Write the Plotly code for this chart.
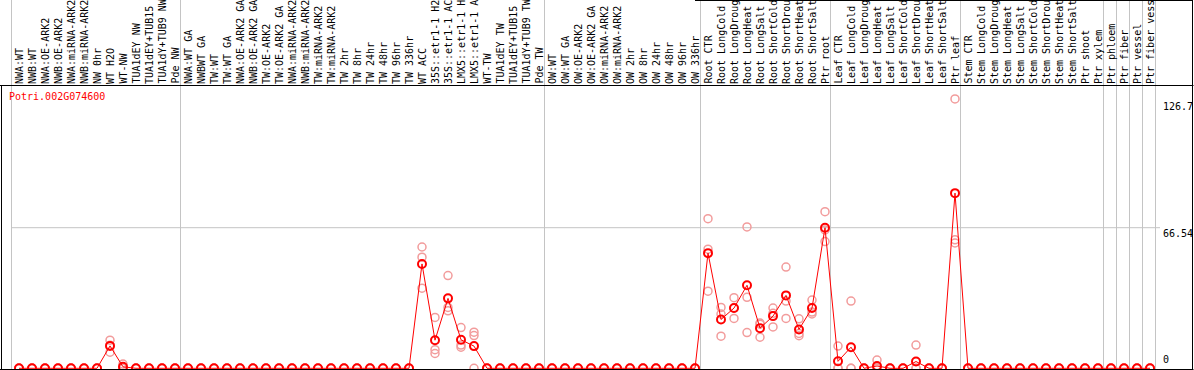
import plotly.graph_objects as go

# ---------------- data ----------------
gene_name = "Potri.002G074600"

group_labels = [
    ["NWA:WT", "NWB:WT", "NWA:OE-ARK2", "NWB:OE-ARK2", "NWA:miRNA-ARK2", "NWB:miRNA-ARK2",
     "NW 0hr", "WT H2O", "WT-NW", "TUA1dEY NW", "TUA1dEY+TUB15 NW", "TUA1dY+TUB9 NW", "Pde NW"],
    ["NWA:WT GA", "NWBWT GA", "TW:WT", "TW:WT GA", "NWA:OE-ARK2 GA", "NWB:OE-ARK2 GA",
     "TW:OE-ARK2", "TW:OE-ARK2 GA", "NWA:miRNA-ARK2 GA", "NWB:miRNA-ARK2 GA", "TW:miRNA-ARK2",
     "TW:miRNA-ARK2 GA", "TW 2hr", "TW 8hr", "TW 24hr", "TW 48hr", "TW 96hr", "TW 336hr",
     "WT ACC", "35S::etr1-1 H2O", "35S::etr1-1 ACC", "LMX5::etr1-1 H2O", "LMX5::etr1-1 ACC",
     "WT-TW", "TUA1dEY TW", "TUA1dEY+TUB15 TW", "TUA1dY+TUB9 TW", "Pde TW"],
    ["OW:WT", "OW:WT GA", "OW:OE-ARK2", "OW:OE-ARK2 GA", "OW:miRNA-ARK2", "OW:miRNA-ARK2 GA",
     "OW 2hr", "OW 8hr", "OW 24hr", "OW 48hr", "OW 96hr", "OW 336hr"],
    ["Root CTR", "Root LongCold", "Root LongDrought", "Root LongHeat", "Root LongSalt",
     "Root ShortCold", "Root ShortDrought", "Root ShortHeat", "Root ShortSalt", "Ptr root"],
    ["Leaf CTR", "Leaf LongCold", "Leaf LongDrought", "Leaf LongHeat", "Leaf LongSalt",
     "Leaf ShortCold", "Leaf ShortDrought", "Leaf ShortHeat", "Leaf ShortSalt", "Ptr leaf"],
    ["Stem CTR", "Stem LongCold", "Stem LongDrought", "Stem LongHeat", "Stem LongSalt",
     "Stem ShortCold", "Stem ShortDrought", "Stem ShortHeat", "Stem ShortSalt", "Ptr shoot", "Ptr xylem"],
    ["Ptr phloem"],
    ["Ptr fiber"],
    ["Ptr vessel"],
    ["Ptr fiber vessel"],
]

mean_vals = (
    [0, 0, 0, 0, 0, 0, 0, 10.6, 0.7, 0, 0, 0, 0]
    + [0] * 18 + [49.4, 13.3, 33.1, 13.5, 10.5, 0, 0, 0, 0, 0]
    + [0] * 12
    + [54.5, 23.1, 28.5, 39.3, 19.0, 24.7, 34.5, 18.4, 28.5, 66.54]
    + [3.3, 10.0, 0, 1.1, 0, 0, 3.2, 0, 0, 82.9]
    + [0] * 11
    + [0, 0, 0, 0]
)
rep_a = (
    [0, 0, 0, 0, 0, 0, 0, 13.3, 2.0, 0, 0, 0, 0]
    + [0] * 18 + [57.4, 24.1, 43.9, 19.3, 17.1, 0, 0, 0, 0, 0]
    + [0] * 12
    + [70.8, 28.8, 33.4, 66.9, 21.4, 28.5, 47.9, 23.4, 32.3, 74.1]
    + [10.5, 31.8, 0, 3.9, 0, 0, 11.0, 0, 0, 127.5]
    + [0] * 11
    + [0, 0, 0, 0]
)
rep_b = (
    [0, 0, 0, 0, 0, 0, 0, 10.9, 0, 0, 0, 0, 0]
    + [0] * 18 + [52.6, 8.8, 28.8, 11.0, 15.5, 0, 0, 0, 0, 0]
    + [0] * 12
    + [56.4, 25.7, 28.5, 33.6, 20.9, 26.0, 31.8, 16.5, 26.6, 65.5]
    + [0, 0, 0, 0, 0, 0, 0, 0, 0, 60.8]
    + [0] * 11
    + [0, 0, 0, 0]
)
rep_c = (
    [0, 0, 0, 0, 0, 0, 0, 7.6, 0, 0, 0, 0, 0]
    + [0] * 18 + [37.9, 7.0, 27.2, 10.0, 0, 0, 0, 0, 0, 0]
    + [0] * 12
    + [36.5, 15.2, 23.6, 16.9, 14.7, 19.6, 23.6, 15.4, 25.7, 60.0]
    + [0, 0, 0, 0, 0, 0, 0, 0, 0, 59.3]
    + [0] * 11
    + [0, 0, 0, 0]
)
axis_ticks = [126.7, 66.54, 0]
label_max_chars = 14

# ---------------- layout helpers ----------------
W, H = 1194, 370
X0_PX, STEP_PX = 19, 13          # pixel of first column, column spacing
ZERO_PX, MID_PX = 368.3, 227.7   # pixel rows of value 0 and of the middle tick
LABEL_BOTTOM_PX = 86
FONT = "DejaVu Sans Mono"
RED = "#ff0000"
PINK = "#f29c9c"
GRID = "#c4c4c4"

labels = [lab for g in group_labels for lab in g]
n = len(labels)
xs = list(range(n))

scale = (ZERO_PX - MID_PX) / axis_ticks[1]
y_range = [-(H - ZERO_PX) / scale, ZERO_PX / scale]
x_range = [-X0_PX / STEP_PX, (W - X0_PX) / STEP_PX]


def py(p):
    return 1 - p / H


def px_to_x(p):
    return (p - X0_PX) / STEP_PX


fig = go.Figure()

# replicate points
fig.add_trace(go.Scatter(
    x=xs * 3, y=rep_a + rep_b + rep_c, mode="markers",
    marker=dict(symbol="circle-open", size=8, color=PINK, line=dict(width=1.5, color=PINK)),
    hoverinfo="skip", showlegend=False))
# mean line + markers
fig.add_trace(go.Scatter(
    x=xs, y=mean_vals, mode="lines+markers",
    line=dict(color=RED, width=1),
    marker=dict(symbol="circle-open", size=8, color=RED, line=dict(width=2, color=RED)),
    showlegend=False))

shapes = []
# vertical group separators
starts = []
c = 0
for g in group_labels:
    starts.append(c)
    c += len(g)
bounds = [s - 1 for s in starts] + [n - 1]
for b in bounds:
    xb = b + 5.5 / STEP_PX
    shapes.append(dict(type="line", xref="x", yref="paper", x0=xb, x1=xb, y0=py(369), y1=1,
                       line=dict(color=GRID, width=1), layer="below"))
# horizontal grid at middle tick
shapes.append(dict(type="line", xref="x", yref="y", x0=bounds[0] + 5.5 / STEP_PX, x1=px_to_x(1160),
                   y0=axis_ticks[1], y1=axis_ticks[1], line=dict(color=GRID, width=1), layer="below"))
# black frame lines
blk = dict(color="black", width=1)
shapes += [
    dict(type="line", xref="paper", yref="paper", x0=0, x1=1193.5 / W, y0=py(LABEL_BOTTOM_PX - 0.5),
         y1=py(LABEL_BOTTOM_PX - 0.5), line=blk, layer="above"),
    dict(type="line", xref="paper", yref="paper", x0=0, x1=1193.5 / W, y0=py(369.5), y1=py(369.5),
         line=blk, layer="above"),
    dict(type="line", xref="paper", yref="paper", x0=1192.5 / W, x1=1192.5 / W, y0=py(370), y1=1,
         line=blk, layer="above"),
    dict(type="line", xref="paper", yref="paper", x0=1.5 / W, x1=1.5 / W, y0=py(370),
         y1=py(LABEL_BOTTOM_PX), line=blk, layer="above"),
    dict(type="line", xref="paper", yref="paper", x0=695 / W, x1=1193 / W, y0=py(0.5), y1=py(0.5),
         line=blk, layer="above"),
]

annotations = []
for i, lab in enumerate(labels):
    annotations.append(dict(
        x=i, y=py(LABEL_BOTTOM_PX - 1), xref="x", yref="paper", text=lab[:label_max_chars],
        textangle=-90, showarrow=False, xanchor="center", yanchor="bottom",
        font=dict(family=FONT, size=10, color="black"), borderpad=0))
annotations.append(dict(
    x=8 / W, y=py(96), xref="paper", yref="paper", text=gene_name, showarrow=False,
    xanchor="left", yanchor="middle", font=dict(family=FONT, size=10, color=RED), borderpad=0))
for t in axis_ticks:
    annotations.append(dict(
        x=1162 / W, y=t, xref="paper", yref="y", text=f"{t:g}", showarrow=False,
        xanchor="left", yanchor="bottom" if t == 0 else "top", yshift=2 if t == 0 else 1,
        font=dict(family=FONT, size=10, color="black"), borderpad=0))

fig.update_layout(
    width=W, height=H, autosize=False,
    margin=dict(l=0, r=0, t=0, b=0, pad=0),
    paper_bgcolor="white", plot_bgcolor="white",
    xaxis=dict(range=x_range, visible=False, showgrid=False, zeroline=False, fixedrange=True),
    yaxis=dict(range=y_range, visible=False, showgrid=False, zeroline=False, fixedrange=True),
    shapes=shapes, annotations=annotations,
    hovermode=False,
)

fig.write_html(
    "out.html",
    config={"displayModeBar": False},
    post_script="document.body.style.margin='0';document.body.style.overflow='hidden';",
)
